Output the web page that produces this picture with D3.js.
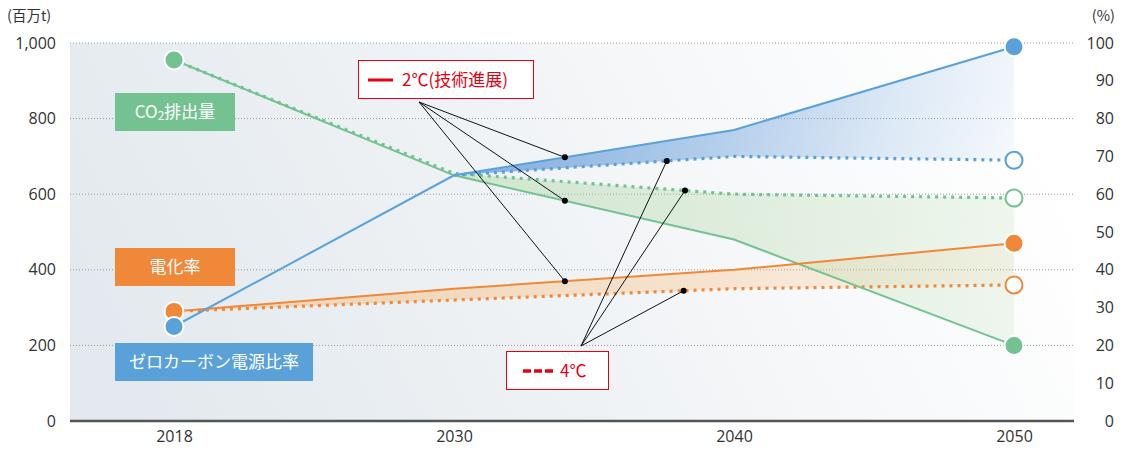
<!DOCTYPE html>
<html>
<head>
<meta charset="utf-8">
<script src="https://cdn.jsdelivr.net/npm/d3@7"></script>
<style>
  body { margin: 0; background: #fff; }
  svg { font-family: "Noto Sans CJK JP", "Noto Sans", sans-serif; }
</style>
</head>
<body>
<svg id="chart" width="1123" height="456"></svg>
<script>
// data
const years = ["2018", "2030", "2040", "2050"];
const leftTicks = [0, 200, 400, 600, 800, 1000];
const rightTicks = [0, 10, 20, 30, 40, 50, 60, 70, 80, 90, 100];

// CO2 emissions (million t)
const co2_2c = [955, 650, 480, 200];
const co2_4c = [955, 655, 600, 590];
// electrification rate (%)
const elec_2c = [29, 35, 40, 47];
const elec_4c = [29, 32, 35, 36];
// zero carbon power share (%)
const zero_2c = [25, 65, 77, 99];
const zero_4c = [25, 65, 70, 69];

// leader line targets: position along the x categories (fractional index)
const solidTargets = [["zero", 1.396], ["co2", 1.396], ["elec", 1.396]];
const dottedTargets = [["zero", 1.76], ["co2", 1.825], ["elec", 1.82]];

const colors = { co2: "#74c292", elec: "#f0883a", zero: "#5aa1da", red: "#e60012" };

const svg = d3.select("#chart");
const plot = { left: 70, right: 1074, top: 43, bottom: 421 };

const x = d3.scalePoint().domain(years).range([174, 1014]);
const yL = d3.scaleLinear().domain([0, 1000]).range([plot.bottom, plot.top]);
const yR = d3.scaleLinear().domain([0, 100]).range([plot.bottom, plot.top]);

const series = {
    co2: { s2: co2_2c, s4: co2_4c, y: yL },
    elec: { s2: elec_2c, s4: elec_4c, y: yR },
    zero: { s2: zero_2c, s4: zero_4c, y: yR },
};

const defs = svg.append("defs");

// background gradient
let bg = defs.append("linearGradient").attr("id", "bg")
    .attr("x1", 0).attr("y1", 0.6).attr("x2", 1).attr("y2", 0.4);
bg.append("stop").attr("offset", "0%").attr("stop-color", "#e3e9ee");
bg.append("stop").attr("offset", "20%").attr("stop-color", "#e8edf1");
bg.append("stop").attr("offset", "60%").attr("stop-color", "#f4f6f8");
bg.append("stop").attr("offset", "100%").attr("stop-color", "#ffffff");

function fillGrad(id, color, stops, x1, y1, x2, y2) {
    let g = defs.append("linearGradient").attr("id", id)
        .attr("gradientUnits", "userSpaceOnUse")
        .attr("x1", x1).attr("y1", y1).attr("x2", x2).attr("y2", y2);
    stops.forEach(([o, a]) => {
        g.append("stop").attr("offset", o).attr("stop-color", color).attr("stop-opacity", a);
    });
}
fillGrad("gZero", "#4f8fd6",
    [["0%", 0.62], ["35%", 0.4], ["70%", 0.17], ["90%", 0.08], ["100%", 0.02]],
    550, 100, 1000, 260);
fillGrad("gCo2", "#a3d296", [["0%", 0.4], ["100%", 0.15]], 455, 180, 1014, 330);
fillGrad("gElec", "#f9b56c", [["0%", 0.4], ["55%", 0.28], ["100%", 0.08]], 400, 270, 1014, 300);

svg.append("rect")
    .attr("x", plot.left).attr("y", plot.top)
    .attr("width", plot.right - plot.left).attr("height", plot.bottom - plot.top)
    .attr("fill", "url(#bg)");

// grid lines
svg.append("g").selectAll("line")
    .data(leftTicks.filter(d => d > 0))
    .enter().append("line")
    .attr("x1", plot.left).attr("x2", plot.right)
    .attr("y1", d => yL(d)).attr("y2", d => yL(d))
    .attr("stroke", "#9a9a9a").attr("stroke-width", 1)
    .attr("stroke-dasharray", "1,2");

// fills between 2C and 4C lines
function band(key, from) {
    let s = series[key];
    let idx = d3.range(from, years.length);
    return d3.area()
        .x(i => x(years[i]))
        .y0(i => s.y(s.s4[i]))
        .y1(i => s.y(s.s2[i]))(idx);
}
svg.append("path").attr("d", band("elec", 0)).attr("fill", "url(#gElec)");
svg.append("path").attr("d", band("co2", 1)).attr("fill", "url(#gCo2)");
svg.append("path").attr("d", band("zero", 1)).attr("fill", "url(#gZero)");

// lines
function linePath(key, which, from) {
    let s = series[key];
    return d3.line()
        .x(i => x(years[i]))
        .y(i => s.y(s[which][i]))(d3.range(from, years.length));
}
// 4C dotted
[["co2", 0], ["elec", 0], ["zero", 1]].forEach(([k, from]) => {
    svg.append("path").attr("d", linePath(k, "s4", from))
        .attr("fill", "none").attr("stroke", colors[k])
        .attr("stroke-width", 3.2).attr("stroke-dasharray", "3,5");
});
// 2C solid
["co2", "elec", "zero"].forEach(k => {
    svg.append("path").attr("d", linePath(k, "s2", 0))
        .attr("fill", "none").attr("stroke", colors[k])
        .attr("stroke-width", 2);
});

// markers
["co2", "elec", "zero"].forEach(k => {
    let s = series[k];
    let last = years.length - 1;
    // start point
    svg.append("circle").attr("cx", x(years[0])).attr("cy", s.y(s.s2[0])).attr("r", 9.5)
        .attr("fill", colors[k]).attr("stroke", "#fff").attr("stroke-width", 2);
    // 2050 2C
    svg.append("circle").attr("cx", x(years[last])).attr("cy", s.y(s.s2[last])).attr("r", 9.5)
        .attr("fill", colors[k]).attr("stroke", "#fff").attr("stroke-width", 2);
    // 2050 4C
    svg.append("circle").attr("cx", x(years[last])).attr("cy", s.y(s.s4[last])).attr("r", 8.5)
        .attr("fill", "#fff").attr("stroke", colors[k]).attr("stroke-width", 2);
});

// axes
let axL = svg.append("g")
    .attr("transform", `translate(${plot.left},0)`)
    .call(d3.axisLeft(yL).tickValues(leftTicks).tickSize(0).tickPadding(14).tickFormat(d3.format(",")));
let axR = svg.append("g")
    .attr("transform", `translate(${plot.right},0)`)
    .call(d3.axisRight(yR).tickValues(rightTicks).tickSize(0).tickPadding(40));
axR.selectAll(".tick text").attr("text-anchor", "end");
let axB = svg.append("g")
    .attr("transform", `translate(0,${plot.bottom})`)
    .call(d3.axisBottom(x).tickSize(0).tickPadding(10));
[axL, axR, axB].forEach(a => {
    a.select(".domain").remove();
    a.selectAll(".tick text")
        .style("font-size", "16px")
        .style("fill", "#333")
        .style("font-family", "'Open Sans', 'Noto Sans', sans-serif");
});

// bottom axis line
svg.append("line")
    .attr("x1", plot.left).attr("x2", plot.right)
    .attr("y1", plot.bottom).attr("y2", plot.bottom)
    .attr("stroke", "#555").attr("stroke-width", 2.5);

// units
svg.append("text").attr("x", 7).attr("y", 21)
    .style("font-size", "14.5px").style("fill", "#333").text("(百万t)");
svg.append("text").attr("x", 1115).attr("y", 21).attr("text-anchor", "end")
    .style("font-size", "14.5px").style("fill", "#333").text("(%)");

// leader lines
function targetPoint(k, t, which) {
    let s = series[k];
    let v = s[which];
    let i = Math.floor(t), f = t - i;
    return [x(years[0]) + t * x.step(), s.y(v[i] * (1 - f) + v[i + 1] * f)];
}
function leader(anchor, targets, which) {
    targets.forEach(([k, t]) => {
        let p = targetPoint(k, t, which);
        svg.append("line")
            .attr("x1", anchor[0]).attr("y1", anchor[1])
            .attr("x2", p[0]).attr("y2", p[1])
            .attr("stroke", "#111").attr("stroke-width", 1);
        svg.append("circle").attr("cx", p[0]).attr("cy", p[1]).attr("r", 3).attr("fill", "#000");
    });
}
leader([419, 102], solidTargets, "s2");
leader([581, 346], dottedTargets, "s4");

// category labels
function tag(x0, y0, w, h, color) {
    svg.append("rect").attr("x", x0).attr("y", y0).attr("width", w).attr("height", h).attr("fill", color);
    return svg.append("text").attr("x", x0 + w / 2).attr("y", y0 + h / 2 + 6)
        .attr("text-anchor", "middle")
        .style("font-size", "17px").style("fill", "#fff");
}
let co2Label = tag(115, 93, 120, 38, colors.co2);
co2Label.append("tspan").text("CO");
co2Label.append("tspan").attr("font-size", "12px").attr("dy", 2).text("2");
co2Label.append("tspan").attr("dy", -2).text("排出量");
tag(115, 248, 120, 38, colors.elec).text("電化率");
tag(115, 343, 198, 38, colors.zero).text("ゼロカーボン電源比率");

// scenario legend
svg.append("rect").attr("x", 358.5).attr("y", 60.5).attr("width", 175).attr("height", 38)
    .attr("fill", "#fff").attr("stroke", colors.red).attr("stroke-width", 1);
svg.append("line").attr("x1", 368).attr("x2", 393).attr("y1", 80).attr("y2", 80)
    .attr("stroke", colors.red).attr("stroke-width", 3);
svg.append("text").attr("x", 402).attr("y", 86)
    .style("font-size", "17px").style("fill", colors.red).text("2℃(技術進展)");

svg.append("rect").attr("x", 506.5).attr("y", 351.5).attr("width", 102).attr("height", 38)
    .attr("fill", "#fff").attr("stroke", colors.red).attr("stroke-width", 1);
svg.append("line").attr("x1", 523).attr("x2", 554).attr("y1", 371).attr("y2", 371)
    .attr("stroke", colors.red).attr("stroke-width", 3.5).attr("stroke-dasharray", "8,3");
svg.append("text").attr("x", 560).attr("y", 377)
    .style("font-size", "17px").style("fill", colors.red).text("4℃");
</script>
</body>
</html>
